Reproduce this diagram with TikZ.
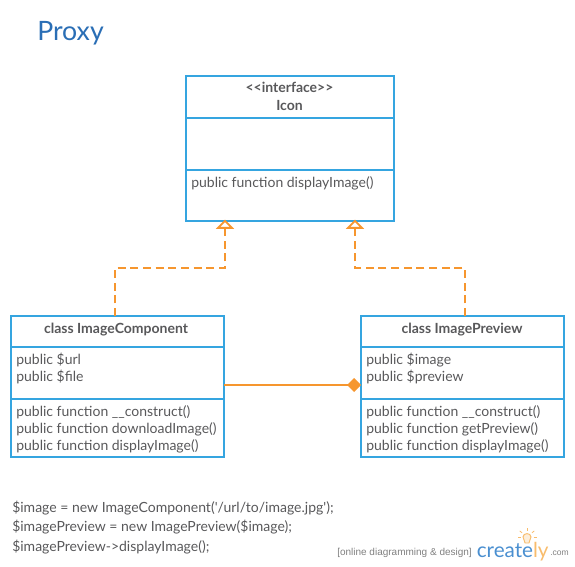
\documentclass[tikz,border=0pt]{standalone}
\usepackage{fontspec}
\setmainfont{Lato}
\newfontfamily\logofont{Liberation Sans}
\usetikzlibrary{arrows.meta,calc}
\definecolor{umlblue}{HTML}{35A5E0}
\definecolor{umlorange}{HTML}{F6962E}
\definecolor{umltext}{HTML}{58585A}
\definecolor{titleblue}{HTML}{2A6EB5}
\definecolor{logoblue}{HTML}{4A8FD0}
\definecolor{logoorange}{HTML}{F8BC6C}
\tikzset{
  x=0.75pt,y=-0.75pt,
  box/.style={draw=umlblue,line width=1.5pt,inner sep=0pt,outer sep=0pt,anchor=north west},
  divider/.style={draw=umlblue,line width=1.5pt},
  member/.style={anchor=base west,inner sep=0pt,text=umltext,font=\fontsize{10.5}{12}\selectfont},
  head/.style={anchor=base,inner sep=0pt,text=umltext,font=\fontsize{10.5}{12}\selectfont\bfseries},
  code/.style={anchor=base west,inner sep=0pt,text=umltext,font=\fontsize{10.5}{12}\selectfont},
  realize/.style={draw=umlorange,line width=1.5pt,dash pattern=on 6pt off 3.5pt,
    -{Triangle[open,length=7pt,width=13.5pt,line width=1.4pt,color=umlorange]}},
  compose/.style={draw=umlorange,line width=1.5pt,
    -{Diamond[fill=umlorange,length=10.5pt,width=10.5pt,color=umlorange]}},
}
\begin{document}
\begin{tikzpicture}
\useasboundingbox (0,0) rectangle (575,567);
\node[anchor=base west,inner sep=0pt,text=titleblue,font=\fontsize{20}{24}\selectfont] (title) at (37,41) {Proxy};

\node[box,minimum width=156pt,minimum height=108.75pt] (icon) at (186,76) {};
\draw[divider] (186,118) -- (394,118);
\draw[divider] (186,170) -- (394,170);
\node[head] (icon1) at (289.5,93) {<{}<interface>{}>};
\node[head] (icon2) at (289.5,110.2) {Icon};
\node[member] (icon3) at (191,187) {public function displayImage()};

\node[box,minimum width=159.75pt,minimum height=105.75pt] (comp) at (11,316) {};
\draw[divider] (11,347) -- (224,347);
\draw[divider] (11,399) -- (224,399);
\node[head] (comp0) at (116,333.2) {class ImageComponent};
\node[member] (comp1) at (16,364) {public \$url};
\node[member] (comp2) at (16,381) {public \$file};
\node[member] (comp3) at (16,416) {public function \_\_construct()};
\node[member] (comp4) at (16,433) {public function downloadImage()};
\node[member] (comp5) at (16,450) {public function displayImage()};

\node[box,minimum width=152.25pt,minimum height=105.75pt] (prev) at (361,316) {};
\draw[divider] (361,347) -- (564,347);
\draw[divider] (361,399) -- (564,399);
\node[head] (prev0) at (462,333.2) {class ImagePreview};
\node[member] (prev1) at (366,364) {public \$image};
\node[member] (prev2) at (366,381) {public \$preview};
\node[member] (prev3) at (366,416) {public function \_\_construct()};
\node[member] (prev4) at (366,433) {public function getPreview()};
\node[member] (prev5) at (366,450) {public function displayImage()};

\coordinate (a1) at (115,316);
\coordinate (a2) at (225,219.5);
\coordinate (b1) at (465,316);
\coordinate (b2) at (355,219.5);
\coordinate (c1) at (224,385);
\coordinate (c2) at (361,385);
\draw[realize] (a1) -- (115,268) -- (225,268) -- (a2);
\draw[realize] (b1) -- (465,268) -- (355,268) -- (b2);
\draw[compose] (c1) -- (c2);

\node[code] (l1) at (12,512.5) {\$image = new ImageComponent(\textquotesingle/url/to/image.jpg\textquotesingle);};
\node[code] (l2) at (12,531.5) {\$imagePreview = new ImagePreview(\$image);};
\node[code] (l3) at (12,551) {\$imagePreview->displayImage();};

\node[anchor=base west,inner sep=0pt,text=black!50,font=\logofont\fontsize{7.5}{9}\selectfont] (tag) at (337,555) {[online diagramming \& design]};
\node[anchor=base west,inner sep=0pt,font=\fontsize{15.5}{20}\selectfont] (logo) at (476.5,557)
  {\textcolor{logoblue}{create}\textcolor{logoorange}{ly}};
\node[anchor=base west,inner sep=0pt,text=black!50,font=\logofont\fontsize{6.4}{8}\selectfont] (dotcom) at (550,555.5) {.com};
\draw[logoorange,line width=0.7pt,fill=logoorange!25] (525,543) .. controls (525,540) and (523,539.5) .. (523,537) .. controls (523,532.5) and (531,532.5) .. (531,537) .. controls (531,539.5) and (529,540) .. (529,543) -- cycle;
\foreach \a in {0,40,90,140,180}
  \draw[logoorange,line width=0.6pt] ($(527,537)+(-\a:6.5)$) -- ($(527,537)+(-\a:9.5)$);
\end{tikzpicture}
\end{document}
